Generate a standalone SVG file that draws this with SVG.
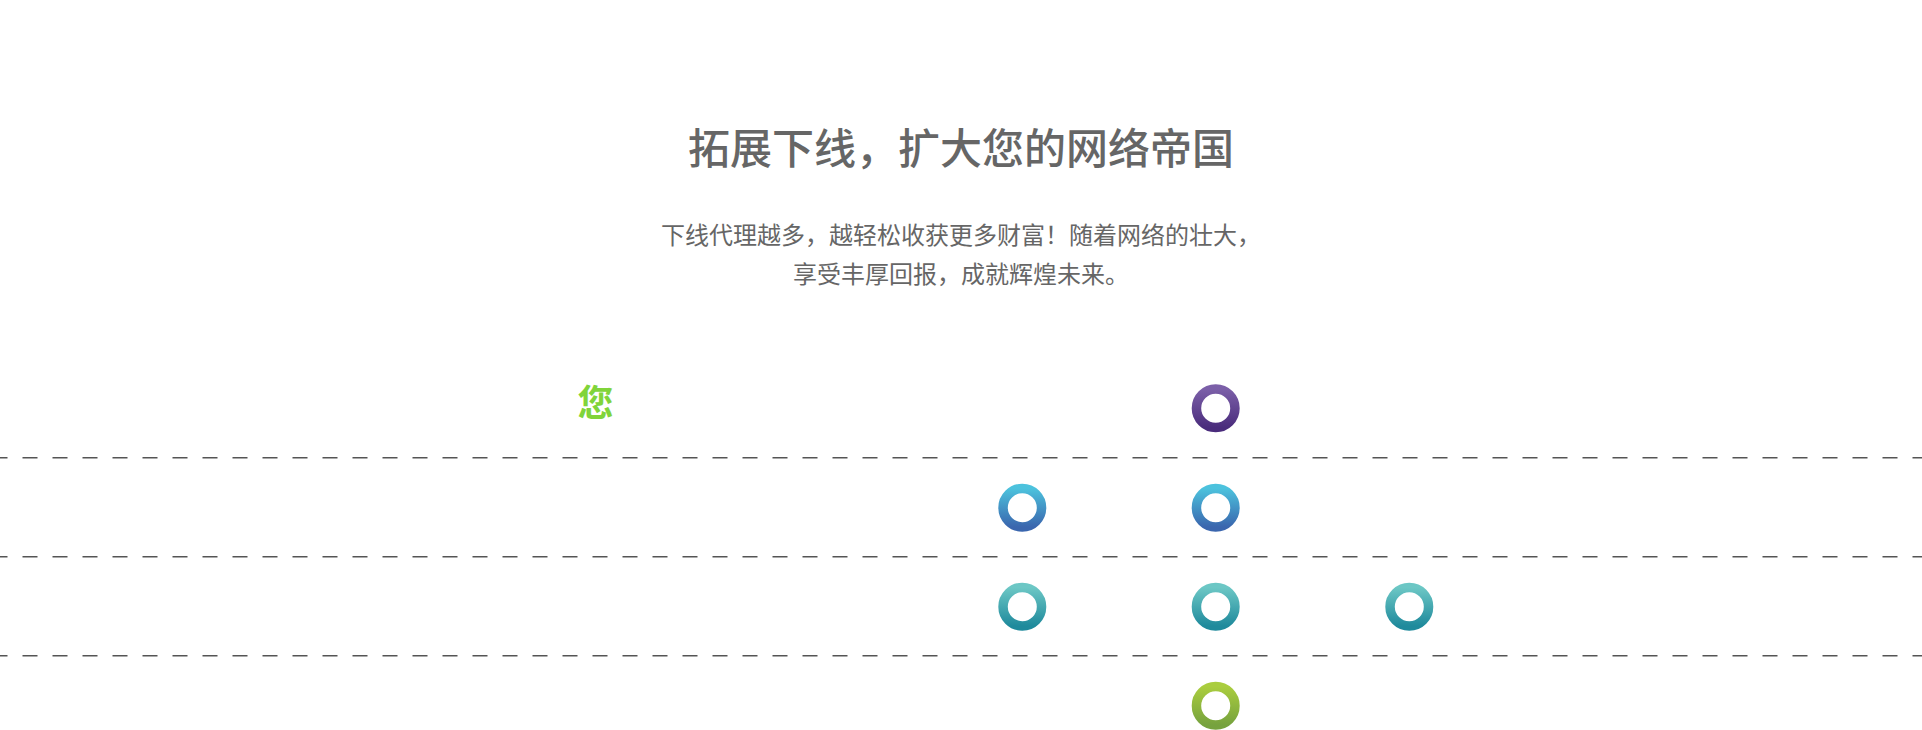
<svg xmlns="http://www.w3.org/2000/svg" width="1922" height="730" viewBox="0 0 1922 730">
<style>
.title{font-family:"Noto Sans CJK SC","Noto Sans",sans-serif;font-size:42px;fill:#666;text-anchor:middle;font-weight:500}
.sub{font-family:"Noto Sans CJK SC","Noto Sans",sans-serif;font-size:24px;fill:#666;text-anchor:middle;font-weight:400}
.you{font-family:"Noto Sans CJK SC","Noto Sans",sans-serif;font-size:36px;fill:#80d43a;font-weight:700;text-anchor:middle}
.dash{stroke:#555;stroke-width:1.6;stroke-dasharray:15 15;stroke-dashoffset:7.5;fill:none}
.ring{fill:none;stroke-width:9.5}
</style>
<defs>
<linearGradient id="gPurple" x1="0" y1="0" x2="0" y2="1"><stop offset="0" stop-color="#7b5fa8"/><stop offset="1" stop-color="#4a2c7c"/></linearGradient>
<linearGradient id="gBlue" x1="0" y1="0" x2="0" y2="1"><stop offset="0" stop-color="#4cc2dd"/><stop offset="1" stop-color="#3a66ae"/></linearGradient>
<linearGradient id="gTeal" x1="0" y1="0" x2="0" y2="1"><stop offset="0" stop-color="#6cc7c5"/><stop offset="1" stop-color="#1f8a9c"/></linearGradient>
<linearGradient id="gGreen" x1="0" y1="0" x2="0" y2="1"><stop offset="0" stop-color="#aacd3e"/><stop offset="1" stop-color="#76a23e"/></linearGradient>
</defs>
<rect width="1922" height="730" fill="#fff"/>
<g id="header">
<text class="title" x="961" y="164">拓展下线，扩大您的网络帝国</text>
<text class="sub" x="961" y="244">下线代理越多，越轻松收获更多财富！随着网络的壮大，</text>
<text class="sub" x="961" y="282.5">享受丰厚回报，成就辉煌未来。</text>
</g>
<g id="you-label"><text class="you" x="595.5" y="415.5">您</text></g>
<g id="connectors">
<line class="dash" x1="0" y1="457.7" x2="1922" y2="457.7"/>
<line class="dash" x1="0" y1="556.7" x2="1922" y2="556.7"/>
<line class="dash" x1="0" y1="655.7" x2="1922" y2="655.7"/>
</g>
<g id="node-level0"><circle class="ring" cx="1215.7" cy="408.3" r="19.25" stroke="url(#gPurple)"/></g>
<g id="node-level1-a"><circle class="ring" cx="1022.3" cy="507.7" r="19.25" stroke="url(#gBlue)"/></g>
<g id="node-level1-b"><circle class="ring" cx="1215.7" cy="507.7" r="19.25" stroke="url(#gBlue)"/></g>
<g id="node-level2-a"><circle class="ring" cx="1022.3" cy="606.7" r="19.25" stroke="url(#gTeal)"/></g>
<g id="node-level2-b"><circle class="ring" cx="1215.7" cy="606.7" r="19.25" stroke="url(#gTeal)"/></g>
<g id="node-level2-c"><circle class="ring" cx="1409.3" cy="606.7" r="19.25" stroke="url(#gTeal)"/></g>
<g id="node-level3"><circle class="ring" cx="1215.7" cy="705.7" r="19.25" stroke="url(#gGreen)"/></g>
</svg>
